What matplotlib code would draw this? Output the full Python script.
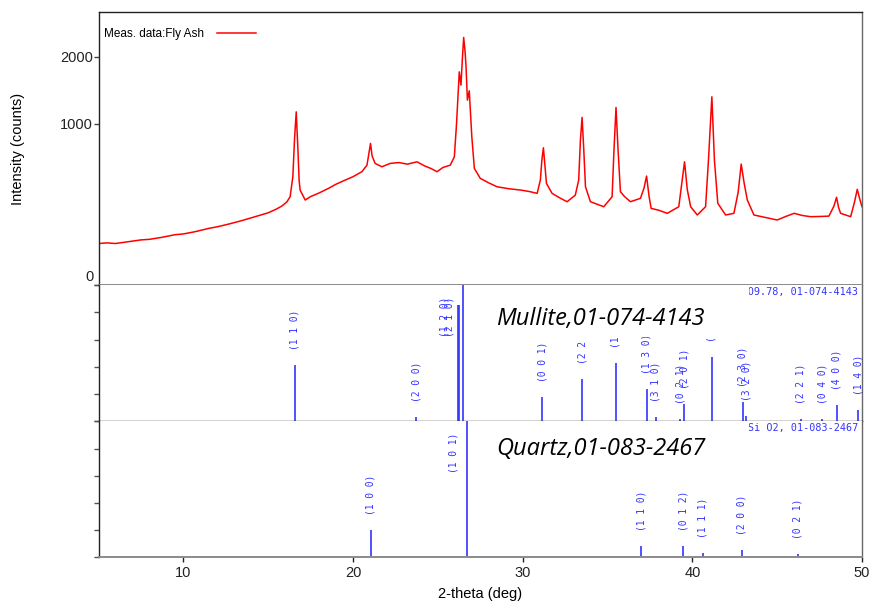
import numpy as np
import matplotlib
matplotlib.use('Agg')
import matplotlib.pyplot as plt
from matplotlib.patches import Rectangle

# ==============================
# Data
# ==============================
# measured pattern: 2-theta (deg) and intensity (counts)
two_theta = [5.0, 5.5, 6.0, 6.75, 7.5, 8.0, 8.72, 9.5, 10.0, 10.69, 11.5, 12.0, 12.65,
             13.4, 14.23, 15.0, 15.5, 15.8, 16.1, 16.29, 16.45, 16.55, 16.65, 16.75,
             16.82, 16.88, 17.18, 17.5, 18.0, 18.55, 19.0, 19.5, 20.0, 20.52, 20.82,
             20.95, 21.03, 21.12, 21.3, 21.7, 22.19, 22.7, 23.2, 23.77, 24.2, 24.6,
             24.95, 25.3, 25.73, 25.97, 26.1, 26.16, 26.26, 26.36, 26.45, 26.52, 26.6,
             26.66, 26.74, 26.85, 27.0, 27.15, 27.5, 28.0, 28.49, 29.2, 29.86, 30.4,
             30.85, 31.04, 31.13, 31.22, 31.3, 31.4, 31.73, 32.2, 32.62, 33.1, 33.3,
             33.4, 33.5, 33.6, 33.7, 33.99, 34.4, 34.78, 35.27, 35.38, 35.5, 35.62,
             35.76, 36.0, 36.35, 36.94, 37.15, 37.3, 37.45, 37.57, 38.0, 38.52, 39.2,
             39.38, 39.54, 39.7, 39.9, 40.29, 40.78, 40.95, 41.15, 41.3, 41.5, 41.96,
             42.45, 42.7, 42.88, 43.05, 43.24, 43.63, 44.3, 45.0, 45.5, 46.0, 46.5,
             46.97, 47.5, 48.05, 48.35, 48.5, 48.62, 48.74, 49.33, 49.55, 49.72, 49.9,
             50.0]
counts = [66, 68, 66, 72, 78, 80, 87, 97, 100, 109, 123, 130, 142,
          158, 179, 200, 222, 239, 265, 299, 450, 820, 1150, 700,
          420, 345, 277, 300, 325, 358, 390, 420, 450, 492, 551,
          680, 769, 640, 567, 536, 567, 575, 560, 582, 545, 520,
          492, 530, 551, 630, 1000, 1264, 1742, 1532, 2000, 2349, 2100,
          1825, 1311, 1446, 842, 521, 436, 400, 370, 355, 346, 335,
          322, 422, 600, 722, 560, 396, 322, 290, 266, 310, 422,
          800, 1077, 700, 370, 266, 250, 235, 299, 700, 1209, 700,
          334, 300, 266, 288, 360, 455, 300, 225, 215, 197, 235,
          400, 582, 350, 235, 188, 235, 600, 1358, 600, 256, 188,
          197, 330, 561, 400, 277, 188, 175, 162, 180, 197, 185,
          179, 180, 182, 240, 295, 230, 197, 179, 260, 351, 270,
          235]

# Mullite card 01-074-4143: position, relative intensity, hkl
mullite_pos = [16.55, 23.73, 26.19, 26.27, 26.48, 31.15, 33.5, 35.47, 37.3, 37.83,
               39.3, 39.52, 41.13, 42.96, 43.18, 46.4, 47.66, 48.5, 49.79]
mullite_int = [41, 3, 85, 85, 100, 18, 31, 43, 24, 3, 2, 13, 47, 14, 4, 1.5, 2, 12, 8]
mullite_hkl = ['(1 1 0)', '(2 0 0)', '(1 2 0)', '', '(2 1 0)', '(0 0 1)', '(2 2 0)',
               '(1 1 1)', '(1 3 0)', '(3 1 0)', '(0 2 1)', '(2 0 1)', '(1 2 1)',
               '(2 3 0)', '(3 2 0)', '(2 2 1)', '(0 4 0)', '(4 0 0)', '(1 4 0)']

# Quartz card 01-083-2467
quartz_pos = [21.05, 26.7, 37.0, 39.45, 40.6, 42.9, 46.2]
quartz_int = [20, 100, 8, 8.5, 3.5, 5.5, 2.2]
quartz_hkl = ['(1 0 0)', '(1 0 1)', '(1 1 0)', '(0 1 2)', '(1 1 1)', '(2 0 0)', '(0 2 1)']

SANS = 'Liberation Sans'
MONO = 'DejaVu Sans Mono'
STICK = '#3434ff'
FRAME = '#222222'
GREY = '#8a8a8a'
TICK_LEN = 3.6

# ==============================
# Figure and panels
# ==============================
fig = plt.figure(figsize=(8.74, 6.06), dpi=100)
left, width = 98.6 / 874, (862 - 98.6) / 874
ax_top = fig.add_axes([left, 1 - 285 / 606, width, (285 - 12.3) / 606])
ax_mul = fig.add_axes([left, 1 - 421.3 / 606, width, (421.3 - 285) / 606], sharex=ax_top)
ax_qtz = fig.add_axes([left, 1 - 557.3 / 606, width, (557.3 - 421.3) / 606], sharex=ax_top)

# top panel: measured data on a square-root intensity axis
ax_top.plot(two_theta, counts, color='#ff0000', lw=1.1, label='Meas. data:Fly Ash')
ax_top.set_yscale('function', functions=(lambda v: np.sqrt(np.clip(v, 0, None)), np.square))
ax_top.set_xlim(5, 50)
ax_top.set_ylim(0, 2852)
ax_top.set_yticks([0, 1000, 2000])
ax_top.set_yticklabels(['', '1000', '2000'])
ax_top.text(-0.007, 0.003, '0', transform=ax_top.transAxes, ha='right', va='bottom',
            fontsize=10.5, family=SANS, color='#222222')
ax_top.tick_params(axis='y', direction='out', length=TICK_LEN, width=1, color='#444444',
                   pad=0.5, labelsize=10.5, labelcolor='#222222')
ax_top.tick_params(axis='x', bottom=False, labelbottom=False)
for lab in ax_top.get_yticklabels():
    lab.set_family(SANS)
ax_top.set_ylabel('Intensity (counts)', fontsize=10.5, family=SANS)
ax_top.yaxis.set_label_coords(-0.0964, 0.5)
leg = ax_top.legend(loc='upper left', bbox_to_anchor=(-0.004, 0.974), frameon=False,
                    markerfirst=False, handlelength=3.3, handletextpad=1.1,
                    borderaxespad=0.3, prop={'family': SANS, 'size': 8.5})

# stick panels
def draw_sticks(ax, pos, inten, hkl):
    ax.vlines(pos, 0, np.minimum(inten, 100), color=STICK, lw=1.2)
    for p, h, t in zip(pos, inten, hkl):
        if not t:
            continue
        y = h + 11
        x = p
        if y + 27 > 100:
            y = 62
            x = p - 0.8
        ax.text(x, y, t, rotation=90, ha='center', va='bottom', fontsize=6.9,
                family=MONO, color=STICK)
    ax.set_ylim(0, 100)
    ax.set_yticks(np.arange(0, 101, 20))
    ax.tick_params(axis='y', direction='out', length=TICK_LEN, width=1, color='#555555',
                   labelleft=False)

draw_sticks(ax_mul, mullite_pos, mullite_int, mullite_hkl)
draw_sticks(ax_qtz, quartz_pos, quartz_int, quartz_hkl)
ax_mul.tick_params(axis='x', bottom=False, labelbottom=False)

ax_mul.text(0.995, 0.945, 'Al4.54 Si1.46 O9.78, 01-074-4143', transform=ax_mul.transAxes,
            ha='right', va='center', fontsize=7.3, family=MONO, color=STICK)
ax_qtz.text(0.995, 0.952, 'Si O2, 01-083-2467', transform=ax_qtz.transAxes,
            ha='right', va='center', fontsize=7.3, family=MONO, color=STICK)

ax_qtz.set_xticks([10, 20, 30, 40, 50])
ax_qtz.tick_params(axis='x', direction='out', length=TICK_LEN, width=1, color=FRAME,
                   labelsize=10.5, labelcolor='#222222', pad=3)
for lab in ax_qtz.get_xticklabels():
    lab.set_family(SANS)
ax_qtz.set_xlabel('2-theta (deg)', fontsize=10.5, family=SANS, labelpad=5)

# frame colours
for ax in (ax_top, ax_mul, ax_qtz):
    for side in ('left', 'top', 'right', 'bottom'):
        ax.spines[side].set_color(FRAME)
        ax.spines[side].set_linewidth(1.0)
    ax.spines['right'].set_color('#666666')
ax_top.spines['bottom'].set_color(GREY)
ax_top.spines['bottom'].set_linewidth(1.4)
ax_mul.spines['top'].set_visible(False)
ax_qtz.spines['top'].set_visible(False)
ax_qtz.spines['bottom'].set_color(GREY)
ax_qtz.spines['bottom'].set_linewidth(1.4)

# pasted phase-name boxes
fig.patches.append(Rectangle((475 / 874, 1 - 337 / 606), 274 / 874, 50 / 606,
                             transform=fig.transFigure, facecolor='white',
                             edgecolor='none', zorder=5))
fig.patches.append(Rectangle((475 / 874, 1 - 470 / 606), 274 / 874, 49 / 606,
                             transform=fig.transFigure, facecolor='white',
                             edgecolor='none', zorder=5))
fig.text(496 / 874, 1 - 325 / 606, 'Mullite,01-074-4143', fontsize=17, style='italic',
         family='Open Sans', color='black', va='baseline', zorder=6)
fig.text(496 / 874, 1 - 455 / 606, 'Quartz,01-083-2467', fontsize=17, style='italic',
         family='Open Sans', color='black', va='baseline', zorder=6)

fig.savefig('out.png', dpi=100)
